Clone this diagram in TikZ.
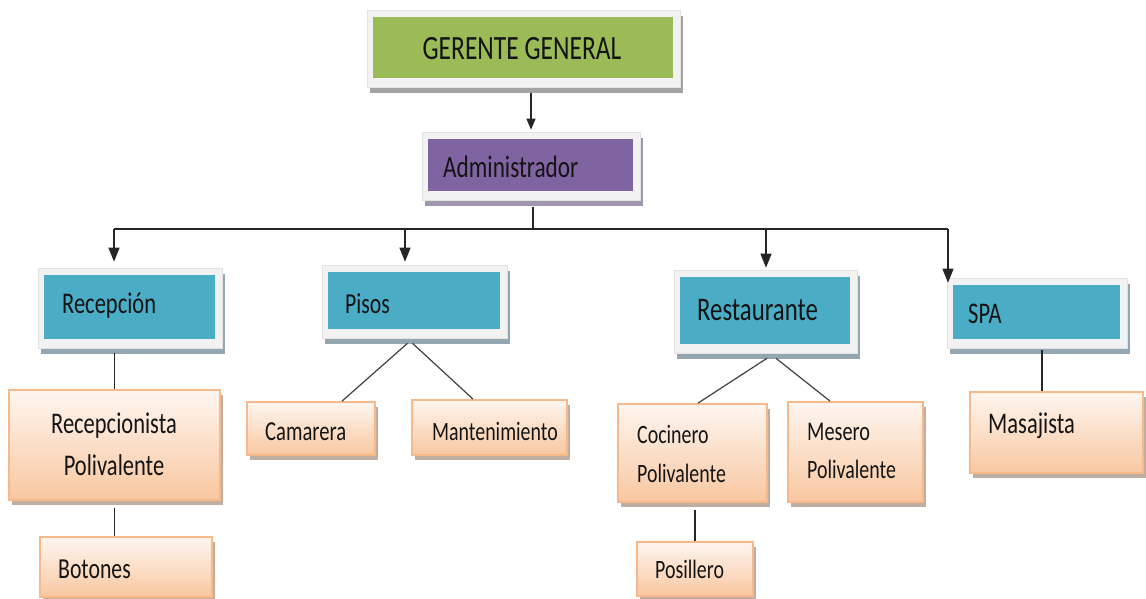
\documentclass[tikz,border=0pt]{standalone}
\usepackage{fontspec}
\newfontfamily\cfont[FakeStretch=0.75]{Carlito}
\usetikzlibrary{arrows.meta}
\definecolor{gGreen}{HTML}{9BBB59}
\definecolor{gPurple}{HTML}{8064A2}
\definecolor{gBlue}{HTML}{4BACC6}
\definecolor{frameFill}{HTML}{F2F2F2}
\definecolor{frameLine}{HTML}{E2E2E2}
\definecolor{orLine}{HTML}{F7B98A}
\definecolor{orTop}{HTML}{FEF6F0}
\definecolor{orBot}{HTML}{F9C7A0}
\definecolor{shGreen}{HTML}{A3A3A3}
\definecolor{shPurple}{HTML}{A096AD}
\definecolor{shBlue}{HTML}{94A7B0}
\definecolor{shOr}{HTML}{BFAEA2}
\newcommand\mkFrame[7]{%
  \fill[#7] (#2+3,#3+6) rectangle (#4+3,#5+6);
  \node[frameBox, minimum width={(#4-#2)*1pt}, minimum height={(#5-#3)*1pt}] (#1F) at ({(#2+#4)/2},{(#3+#5)/2}) {};
  \node[innerBox, fill=#6, minimum width={(#4-#2-13)*1pt}, minimum height={(#5-#3-16)*1pt}] (#1) at ({(#2+#4)/2-0.5},{(#3+#5)/2-1}) {};
}
\newcommand\mkOr[5]{%
  \fill[shOr] (#2+3,#3+5) rectangle (#4+3,#5+5);
  \node[oBox, minimum width={(#4-#2)*1pt}, minimum height={(#5-#3)*1pt}] (#1) at ({(#2+#4)/2},{(#3+#5)/2}) {};
}
\newcommand\fz[1]{\cfont\fontsize{#1}{#1}\selectfont}
\begin{document}
\begin{tikzpicture}[x=1pt,y=-1pt,
  frameBox/.style={fill=frameFill, draw=frameLine, line width=0.6pt, inner sep=0pt},
  innerBox/.style={inner sep=0pt, draw=none},
  oBox/.style={inner sep=0pt, draw=orLine, line width=1.8pt, top color=orTop, bottom color=orBot},
  lbl/.style={text=black!92, inner sep=0pt, anchor=base west},
  conn/.style={line width=1.2pt, draw=black!85},
  arr/.style={conn, -{Triangle[length=14pt,width=11pt]}},
  arrS/.style={conn, -{Triangle[length=11pt,width=9pt]}}]
\useasboundingbox (0,0) rectangle (1146,599);
% frame boxes
\mkFrame{ger}{367}{10}{680}{87}{gGreen}{shGreen}
\mkFrame{adm}{422}{132}{640}{200}{gPurple}{shPurple}
\mkFrame{rec}{38}{268}{222}{348}{gBlue}{shBlue}
\mkFrame{pis}{322}{265}{507}{338}{gBlue}{shBlue}
\mkFrame{res}{674}{270}{857}{353}{gBlue}{shBlue}
\mkFrame{spa}{947}{278}{1127}{348}{gBlue}{shBlue}
% orange boxes
\mkOr{rpol}{9}{390}{220}{500}
\mkOr{bot}{40}{537}{212}{597}
\mkOr{cam}{247}{402}{375}{455}
\mkOr{man}{412}{400}{567}{455}
\mkOr{coc}{618}{404}{767}{502}
\mkOr{mes}{788}{402}{923}{502}
\mkOr{pos}{637}{542}{753}{596}
\mkOr{mas}{970}{392}{1143}{473}
% texts
\node[lbl, anchor=base, font=\fz{34}] (tGer) at (522,60) {GERENTE GENERAL};
\node[lbl, font=\fz{31}] (tAdm) at (443,178) {Administrador};
\node[lbl, font=\fz{30}] (tRec) at (62,313) {Recepción};
\node[lbl, font=\fz{29}] (tPis) at (345,313) {Pisos};
\node[lbl, font=\fz{33}] (tRes) at (697,320) {Restaurante};
\node[lbl, font=\fz{30}] (tSpa) at (968,323) {SPA};
\node[lbl, anchor=base, font=\fz{30}] (tRp1) at (114,433) {Recepcionista};
\node[lbl, anchor=base, font=\fz{30}] (tRp2) at (114,475) {Polivalente};
\node[lbl, font=\fz{29}] (tBot) at (58,578) {Botones};
\node[lbl, font=\fz{27.5}] (tCam) at (265,440) {Camarera};
\node[lbl, font=\fz{26.5}] (tMan) at (432,440) {Mantenimiento};
\node[lbl, font=\fz{26.5}] (tCo1) at (637,443) {Cocinero};
\node[lbl, font=\fz{26.5}] (tCo2) at (637,482) {Polivalente};
\node[lbl, font=\fz{27}] (tMe1) at (807,440) {Mesero};
\node[lbl, font=\fz{26.5}] (tMe2) at (807,478) {Polivalente};
\node[lbl, font=\fz{26.5}] (tPos) at (655,578) {Posillero};
\node[lbl, font=\fz{30}] (tMas) at (988,433) {Masajista};
% connectors
\coordinate (g1) at ([yshift=-6pt]gerF.south -| admF.north);
\draw[arrS] (g1) -- ([yshift=2pt]admF.north -| g1);
\coordinate (bus) at (533,229);
\coordinate (a1) at ([yshift=-7pt]admF.south -| bus);
\draw[conn] (a1) -- (bus);
\coordinate (b1) at (114,229);
\coordinate (b2) at (405,229);
\coordinate (b3) at (766,229);
\coordinate (b4) at (948,229);
\draw[conn] (b1) -- (b4);
\draw[arr] (b1) -- ([yshift=6pt]recF.north -| b1);
\draw[arr] (b2) -- ([yshift=3pt]pisF.north -| b2);
\draw[arr] (b3) -- ([yshift=2pt]resF.north -| b3);
\draw[arr] (b4) -- ([yshift=-5pt]spaF.north -| b4);
% Recepcion
\coordinate (r1) at ([yshift=-5pt]recF.south -| rpol.north);
\draw[conn] (r1) -- (rpol.north);
\coordinate (r2) at ([yshift=-7pt]rpol.south);
\draw[conn] (r2) -- (r2 |- bot.north);
% Pisos
\draw[conn, draw=black!75] ([xshift=-7pt,yshift=-5pt]pisF.south) -- ([xshift=31pt]cam.north);
\draw[conn, draw=black!75] ([xshift=-2pt,yshift=-5pt]pisF.south) -- ([xshift=-16.5pt]man.north);
% Restaurante
\draw[conn, draw=black!75] ([xshift=1.5pt,yshift=-5pt]resF.south) -- ([xshift=5.5pt]coc.north);
\draw[conn, draw=black!75] ([xshift=10.5pt,yshift=-5pt]resF.south) -- ([xshift=-25.5pt]mes.north);
\coordinate (c1) at ([yshift=-7pt]coc.south -| pos.north);
\draw[conn] (c1) -- (pos.north);
% SPA
\coordinate (s1) at ([xshift=5pt,yshift=-2pt]spaF.south);
\draw[conn] (s1) -- (s1 |- mas.north);
\end{tikzpicture}
\end{document}
